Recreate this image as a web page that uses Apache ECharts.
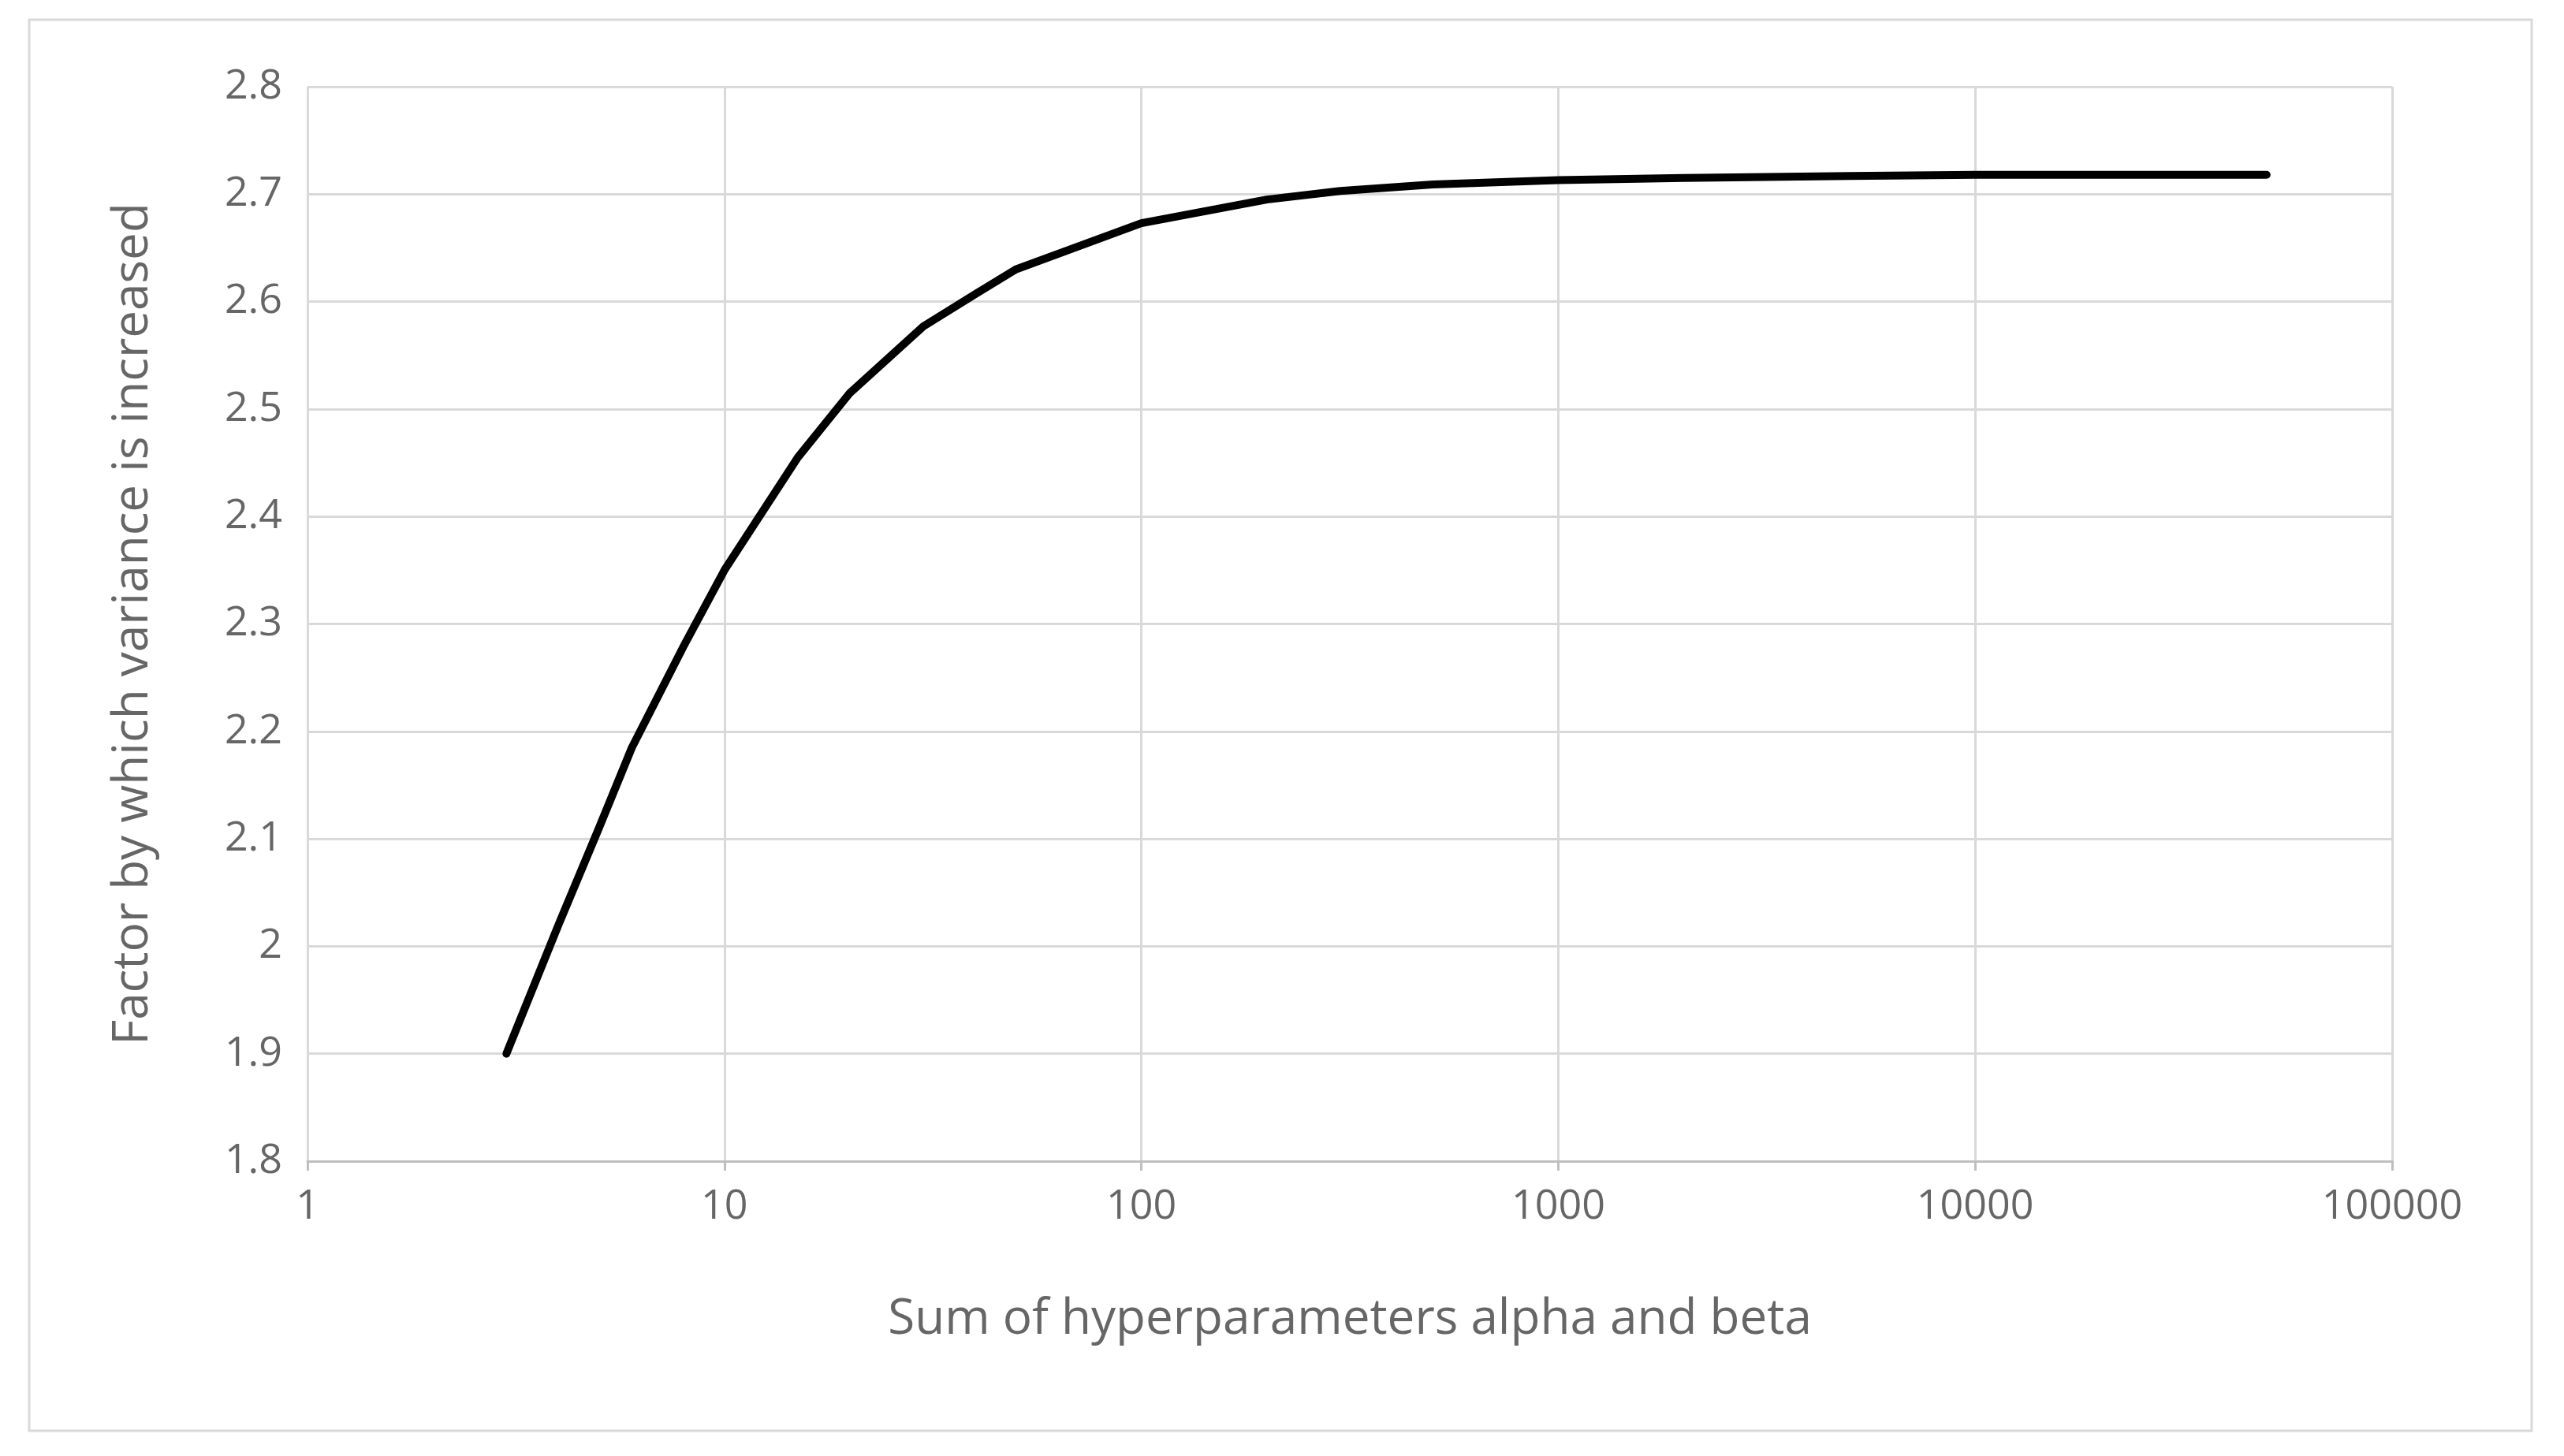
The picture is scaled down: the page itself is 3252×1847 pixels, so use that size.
<!DOCTYPE html>
<html><head><meta charset="utf-8">
<script src="https://cdn.jsdelivr.net/npm/echarts@6/dist/echarts.min.js"></script>
<style>html,body{margin:0;padding:0;background:#fff}#c{width:3252px;height:1847px}</style>
</head><body><div id="c"></div>
<script>
const sums = [3,4,5,6,8,10,15,20,30,40,50,100,200,300,500,1000,2000,5000,10000,50000];
const factors = [1.90,2.02,2.11,2.185,2.28,2.35,2.455,2.515,2.577,2.607,2.63,2.673,2.695,2.703,2.709,2.713,2.715,2.717,2.718,2.718];
const xName = 'Sum of hyperparameters alpha and beta';
const yName = 'Factor by which variance is increased';
const font = 'Open Sans, Liberation Sans, sans-serif';
const chart = echarts.init(document.getElementById('c'));
chart.setOption({
  animation:false,
  graphic:[{type:'rect',shape:{x:37,y:25,width:3174,height:1790},style:{fill:'none',stroke:'#d9d9d9',lineWidth:3}}],
  grid:{left:390,right:218,top:110,bottom:374},
  xAxis:{type:'log',logBase:10,min:1,max:100000,name:xName,nameLocation:'middle',nameGap:170,
    nameTextStyle:{color:'#666',fontSize:62,fontFamily:font},
    axisLabel:{color:'#666',fontSize:52,fontFamily:font,margin:32,formatter:v=>String(Math.round(v))},
    axisLine:{lineStyle:{color:'#bfbfbf',width:3}},axisTick:{show:true,length:12,lineStyle:{color:'#bfbfbf',width:3}},
    minorTick:{show:false},splitLine:{show:true,lineStyle:{color:'#d9d9d9',width:3}}},
  yAxis:{type:'value',min:1.8,max:2.8,interval:0.1,name:yName,nameLocation:'middle',nameGap:190,
    nameTextStyle:{color:'#666',fontSize:62,fontFamily:font},
    axisLabel:{color:'#666',fontSize:52,fontFamily:font,margin:32},
    axisLine:{show:false},axisTick:{show:false},
    splitLine:{lineStyle:{color:'#d9d9d9',width:3}}},
  series:[{type:'line',data:sums.map((s,i)=>[s,factors[i]]),showSymbol:false,smooth:false,
    lineStyle:{color:'#000',width:10,cap:'round',join:'round'}}]
});
</script></body></html>
